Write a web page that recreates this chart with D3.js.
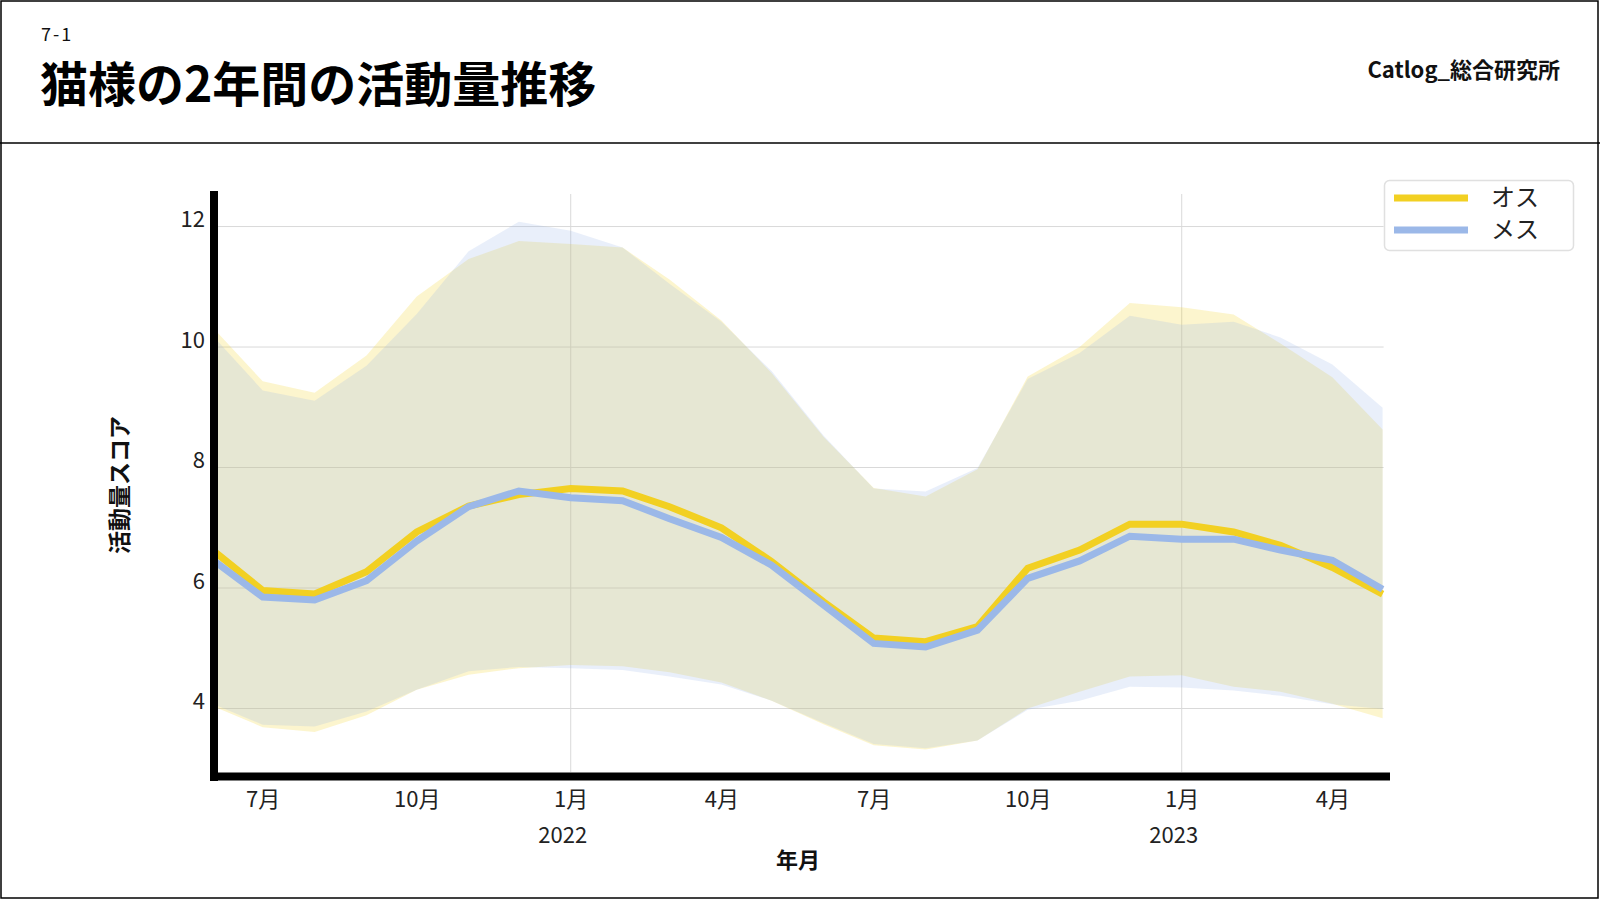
<!DOCTYPE html>
<html>
<head>
<meta charset="utf-8">
<script src="https://cdn.jsdelivr.net/npm/d3@7"></script>
<style>
  body { margin: 0; background: #fff; }
  svg { display: block; font-family: "Noto Sans CJK JP", "Noto Sans", sans-serif; }
</style>
</head>
<body>
<svg id="chart" width="1600" height="900"></svg>
<script>
// months (first day of each month)
const months = [
  '2021-06-01', '2021-07-01', '2021-08-01', '2021-09-01', '2021-10-01', '2021-11-01',
  '2021-12-01', '2022-01-01', '2022-02-01', '2022-03-01', '2022-04-01', '2022-05-01',
  '2022-06-01', '2022-07-01', '2022-08-01', '2022-09-01', '2022-10-01', '2022-11-01',
  '2022-12-01', '2023-01-01', '2023-02-01', '2023-03-01', '2023-04-01', '2023-05-01'
];

// オス
const maleMean  = [6.63, 5.96, 5.90, 6.27, 6.93, 7.36, 7.55, 7.65, 7.61, 7.35, 7.00, 6.44,
                   5.77, 5.17, 5.11, 5.36, 6.33, 6.63, 7.06, 7.06, 6.93, 6.71, 6.34, 5.90];
const maleUpper = [10.33, 9.43, 9.24, 9.86, 10.84, 11.46, 11.76, 11.71, 11.65, 11.12, 10.44, 9.57,
                   8.51, 7.66, 7.52, 7.97, 9.51, 10.00, 10.73, 10.66, 10.54, 10.06, 9.50, 8.63];
const maleLower = [4.04, 3.69, 3.61, 3.89, 4.31, 4.56, 4.67, 4.72, 4.70, 4.60, 4.43, 4.13,
                   3.74, 3.39, 3.32, 3.47, 4.00, 4.28, 4.53, 4.55, 4.36, 4.28, 4.08, 3.84];

// メス
const femaleMean  = [6.47, 5.85, 5.80, 6.12, 6.78, 7.35, 7.61, 7.50, 7.45, 7.15, 6.84, 6.38,
                     5.72, 5.08, 5.02, 5.30, 6.16, 6.45, 6.86, 6.81, 6.81, 6.63, 6.46, 5.98];
const femaleUpper = [10.19, 9.28, 9.11, 9.69, 10.55, 11.59, 12.08, 11.93, 11.65, 11.05, 10.42, 9.60,
                     8.53, 7.65, 7.60, 7.99, 9.47, 9.90, 10.52, 10.37, 10.42, 10.16, 9.71, 8.99];
const femaleLower = [4.08, 3.73, 3.70, 3.95, 4.31, 4.62, 4.69, 4.67, 4.64, 4.53, 4.40, 4.13,
                     3.76, 3.41, 3.34, 3.47, 3.98, 4.13, 4.36, 4.35, 4.30, 4.21, 4.07, 3.99];

const yTicks = [4, 6, 8, 10, 12];
const xTicks = ['2021-07-01', '2021-10-01', '2022-01-01', '2022-04-01',
                '2022-07-01', '2022-10-01', '2023-01-01', '2023-04-01'];
const yearTicks = ['2022-01-01', '2023-01-01'];

const MALE_COLOR = '#f2d022';
const FEMALE_COLOR = '#9bb8e8';
const LINE_WIDTH = 7;
const FILL_OPACITY = 0.22;
const GRID_COLOR = '#d9d9d9';

const parse = d3.timeParse('%Y-%m-%d');
const dates = months.map(parse);

const series = [
  { name: 'オス', color: MALE_COLOR, mean: maleMean, upper: maleUpper, lower: maleLower },
  { name: 'メス', color: FEMALE_COLOR, mean: femaleMean, upper: femaleUpper, lower: femaleLower }
];

const plot = { left: 212.5, right: 1382.6, top: 194, bottom: 772 };

const svg = d3.select('#chart');

/* Frame and header */
svg.append('rect')
  .attr('x', 1).attr('y', 1)
  .attr('width', 1597).attr('height', 897)
  .attr('fill', 'none').attr('stroke', '#000').attr('stroke-width', 1.5);

svg.append('line')
  .attr('x1', 0).attr('x2', 1600)
  .attr('y1', 143).attr('y2', 143)
  .attr('stroke', '#000').attr('stroke-width', 1.5);

svg.append('text')
  .attr('x', 41).attr('y', 41)
  .attr('font-size', 18)
  .attr('letter-spacing', 2)
  .attr('fill', '#111')
  .text('7-1');

svg.append('text')
  .attr('x', 40).attr('y', 102)
  .attr('font-size', 48)
  .attr('font-weight', 700)
  .attr('fill', '#000')
  .text('猫様の2年間の活動量推移');

svg.append('text')
  .attr('x', 1560).attr('y', 78)
  .attr('text-anchor', 'end')
  .attr('font-size', 22)
  .attr('font-weight', 700)
  .attr('fill', '#111')
  .text('Catlog_総合研究所');

/* Scales */
var x = d3.scaleTime()
  .domain([dates[0], dates[dates.length - 1]])
  .range([plot.left, plot.right]);

var y = d3.scaleLinear()
  .domain([2.946, 12.54])
  .range([plot.bottom, plot.top]);

/* Grid */
svg.append('g')
  .selectAll('line')
  .data(yTicks)
  .join('line')
  .attr('x1', plot.left).attr('x2', plot.right + 1)
  .attr('y1', d => y(d)).attr('y2', d => y(d))
  .attr('stroke', GRID_COLOR).attr('stroke-width', 1);

svg.append('g')
  .selectAll('line')
  .data(yearTicks.map(parse))
  .join('line')
  .attr('x1', d => x(d)).attr('x2', d => x(d))
  .attr('y1', plot.top).attr('y2', plot.bottom)
  .attr('stroke', GRID_COLOR).attr('stroke-width', 1);

/* Bands */
var area = (s) => d3.area()
  .x((d, i) => x(dates[i]))
  .y0((d, i) => y(s.lower[i]))
  .y1((d, i) => y(s.upper[i]));

series.forEach(s => {
  svg.append('path')
    .datum(s.mean)
    .attr('fill', s.color)
    .attr('fill-opacity', FILL_OPACITY)
    .attr('d', area(s));
});

/* Mean lines */
series.forEach(s => {
  svg.append('path')
    .datum(s.mean)
    .attr('fill', 'none')
    .attr('stroke', s.color)
    .attr('stroke-width', LINE_WIDTH)
    .attr('stroke-linejoin', 'miter')
    .attr('d', d3.line()
      .x((d, i) => x(dates[i]))
      .y(d => y(d)));
});

/* Axes */
var xAxis = svg.append('g')
  .attr('transform', 'translate(0,' + 776 + ')')
  .call(d3.axisBottom(x)
    .tickValues(xTicks.map(parse))
    .tickFormat(d => (d.getMonth() + 1) + '月')
    .tickSize(0));
xAxis.select('.domain').remove();
xAxis.selectAll('text')
  .attr('y', 31).attr('dy', 0)
  .attr('font-size', 22)
  .attr('font-family', '"Noto Sans CJK JP", sans-serif')
  .attr('fill', '#222');

svg.append('g')
  .selectAll('text')
  .data(yearTicks.map(parse))
  .join('text')
  .attr('x', d => x(d) - 8)
  .attr('y', 843)
  .attr('text-anchor', 'middle')
  .attr('font-size', 22)
  .attr('fill', '#222')
  .text(d => d.getFullYear());

var yAxis = svg.append('g')
  .attr('transform', 'translate(214,0)')
  .call(d3.axisLeft(y)
    .tickValues(yTicks)
    .tickSize(0)
    .tickPadding(9));
yAxis.select('.domain').remove();
yAxis.selectAll('text')
  .attr('dy', 0)
  .attr('font-size', 22)
  .attr('font-family', '"Noto Sans CJK JP", sans-serif')
  .attr('fill', '#222');

// thick axis lines
svg.append('line')
  .attr('x1', 214).attr('x2', 214)
  .attr('y1', 191).attr('y2', 781)
  .attr('stroke', '#000').attr('stroke-width', 8);

svg.append('line')
  .attr('x1', 210).attr('x2', 1390)
  .attr('y1', 776.5).attr('y2', 776.5)
  .attr('stroke', '#000').attr('stroke-width', 8);

/* Axis titles */
svg.append('text')
  .attr('x', 798).attr('y', 868)
  .attr('text-anchor', 'middle')
  .attr('font-size', 22)
  .attr('font-weight', 700)
  .attr('fill', '#111')
  .text('年月');

svg.append('text')
  .attr('transform', 'translate(128,485) rotate(-90)')
  .attr('text-anchor', 'middle')
  .attr('font-size', 23)
  .attr('font-weight', 700)
  .attr('fill', '#111')
  .text('活動量スコア');

/* Legend */
var legend = svg.append('g').attr('transform', 'translate(1384,180)');
legend.append('rect')
  .attr('x', 0.5).attr('y', 0.5)
  .attr('width', 189).attr('height', 70)
  .attr('rx', 5)
  .attr('fill', '#fff')
  .attr('stroke', '#e0e0e0').attr('stroke-width', 1.5);

var item = legend.selectAll('g.item')
  .data(series)
  .join('g')
  .attr('class', 'item')
  .attr('transform', (d, i) => 'translate(0,' + (18 + i * 32) + ')');

item.append('line')
  .attr('x1', 10).attr('x2', 84)
  .attr('stroke', d => d.color)
  .attr('stroke-width', LINE_WIDTH);

item.append('text')
  .attr('x', 107).attr('y', 8)
  .attr('font-size', 24)
  .attr('fill', '#222')
  .text(d => d.name);
</script>
</body>
</html>
